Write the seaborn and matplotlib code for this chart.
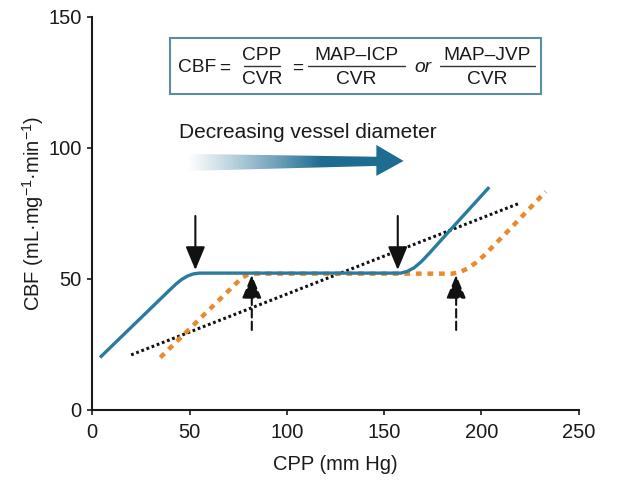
import numpy as np
import pandas as pd
import matplotlib
matplotlib.use("Agg")
import matplotlib.pyplot as plt
from matplotlib.patches import Polygon, Rectangle
from matplotlib.lines import Line2D
import seaborn as sns

# Autoregulation curves: CBF vs CPP
blue_x = [4, 40, 43, 46, 49, 52, 55, 158.6, 162, 165.5, 169, 173, 183.3, 204]
blue_y = [20, 45.9, 48.0, 49.8, 51.1, 51.9, 52.2, 52.2, 52.9, 54.3, 56.5, 59.6, 68.1, 85]

orange_x = [35, 77, 80, 83, 185, 189, 193, 197, 201, 214.1, 233]
orange_y = [20, 50.5, 51.6, 52, 52, 52.6, 54.0, 56.1, 58.7, 68.6, 83.3]

black_x = [20, 220]
black_y = [21, 79]

# Arrow annotations (x position, tail y, head y)
solid_arrows_x = [53, 157]
solid_tail_y, solid_head_y = 74, 53.4
dashed_arrows_x = [82, 187]
dashed_tail_y, dashed_head_y = 30.5, 51.5

BLUE = "#2b7b9e"
ARROW_BLUE = "#1f6c91"
ORANGE = "#ea8a2c"
INK = "#1a1a1a"
FS = 14.5

sns.set_theme(style="ticks")
plt.rcParams["font.family"] = ["Liberation Sans", "DejaVu Sans"]
plt.rcParams["mathtext.fontset"] = "custom"
plt.rcParams["mathtext.rm"] = "Liberation Sans"
plt.rcParams["mathtext.it"] = "Liberation Sans:italic"
plt.rcParams["mathtext.bf"] = "Liberation Sans:bold"

W, H = 623, 480
fig = plt.figure(figsize=(W / 100, H / 100), dpi=100)
ax = fig.add_axes([0.148, 0.146, 0.781, 0.819])

df_o = pd.DataFrame({"x": orange_x, "y": orange_y})
df_b = pd.DataFrame({"x": blue_x, "y": blue_y})
df_k = pd.DataFrame({"x": black_x, "y": black_y})

sns.lineplot(data=df_k, x="x", y="y", ax=ax, color="#111111", lw=2.2,
             linestyle=(0, (0.9, 0.9)), sort=False, estimator=None)
sns.lineplot(data=df_o, x="x", y="y", ax=ax, color=ORANGE, lw=3.2,
             linestyle=(0, (1.3, 1.3)), sort=False, estimator=None)
sns.lineplot(data=df_b, x="x", y="y", ax=ax, color=BLUE, lw=2.4,
             sort=False, estimator=None, solid_capstyle="butt")

head = "-|>,head_length=1.2,head_width=0.5"
for xa in solid_arrows_x:
    ax.annotate("", xy=(xa, solid_head_y), xytext=(xa, solid_tail_y),
                arrowprops=dict(arrowstyle=head, color="#111111", lw=1.5,
                                shrinkA=0, shrinkB=0))
for xa in dashed_arrows_x:
    ax.annotate("", xy=(xa, dashed_head_y), xytext=(xa, dashed_tail_y),
                arrowprops=dict(arrowstyle=head, color="#111111", lw=1.5,
                                linestyle=(0, (4, 2)), shrinkA=0, shrinkB=0))

# Gradient arrow for vessel diameter
arrow_poly = np.array([
    [50, 97.7], [146, 96.6], [146, 101.1], [160, 95],
    [146, 89.3], [146, 93.1], [50, 91.2]])
poly = Polygon(arrow_poly, closed=True, fc="none", ec="none")
ax.add_patch(poly)
gx = np.linspace(0, 1, 400)
alpha = np.clip(gx / 0.62, 0, 1) ** 1.1
rgb = np.array(matplotlib.colors.to_rgb(ARROW_BLUE))
img = np.zeros((2, gx.size, 4))
img[..., :3] = rgb
img[..., 3] = alpha
im = ax.imshow(img, extent=(48, 160, 88, 102), aspect="auto", origin="lower",
               interpolation="bilinear", zorder=3)
im.set_clip_path(poly)

ax.text(44.5, 105.8, "Decreasing vessel diameter", fontsize=15,
        color=INK, ha="left", va="center")


# Equation box, laid out in pixel units of the figure
def fx(px):
    return px / W


def fy(py):
    return 1 - py / H


fig.patches.append(Rectangle((fx(170), fy(94)), fx(541) - fx(170),
                             fy(38) - fy(94), transform=fig.transFigure,
                             fc="white", ec="#5b8ea3", lw=1.5, zorder=5))
EQ_FS = 13.8
mid = 66
fig.text(fx(178), fy(mid), "CBF", fontsize=EQ_FS, color=INK, ha="left",
         va="center_baseline", zorder=6)
for cx in (225, 297.5):
    fig.text(fx(cx), fy(mid), "=", fontsize=EQ_FS, color=INK, ha="center",
             va="center_baseline", zorder=6)
fig.text(fx(422.5), fy(mid), "or", fontsize=EQ_FS, color=INK, ha="center",
         va="center_baseline", style="italic", zorder=6)
fractions = [("CPP", "CVR", 244, 280), ("MAP–ICP", "CVR", 308, 405),
             ("MAP–JVP", "CVR", 440, 535)]
for num, den, x0, x1 in fractions:
    cx = (x0 + x1) / 2
    fig.lines.append(Line2D([fx(x0), fx(x1)], [fy(65.7), fy(65.7)],
                            transform=fig.transFigure, color="#333333",
                            lw=1.0, zorder=6))
    fig.text(fx(cx), fy(54), num, fontsize=EQ_FS, color=INK, ha="center",
             va="center_baseline", zorder=6)
    fig.text(fx(cx), fy(78), den, fontsize=EQ_FS, color=INK, ha="center",
             va="center_baseline", zorder=6)

ax.set_xlim(0, 250)
ax.set_ylim(0, 150)
ax.set_xticks([0, 50, 100, 150, 200, 250])
ax.set_yticks([0, 50, 100, 150])
ax.set_xlabel("CPP (mm Hg)", fontsize=FS, color=INK, labelpad=9)
ax.set_ylabel(r"CBF (mL·mg$^{-1}$·min$^{-1}$)", fontsize=FS,
              color=INK, labelpad=2)
ax.tick_params(axis="both", labelsize=FS, colors=INK, length=3.5,
               width=1.2, direction="out")
ax.tick_params(axis="x", pad=6)
ax.tick_params(axis="y", pad=4)
for s in ["left", "bottom"]:
    ax.spines[s].set_linewidth(1.5)
    ax.spines[s].set_color(INK)
sns.despine(ax=ax)

fig.savefig("out.png", dpi=100)
